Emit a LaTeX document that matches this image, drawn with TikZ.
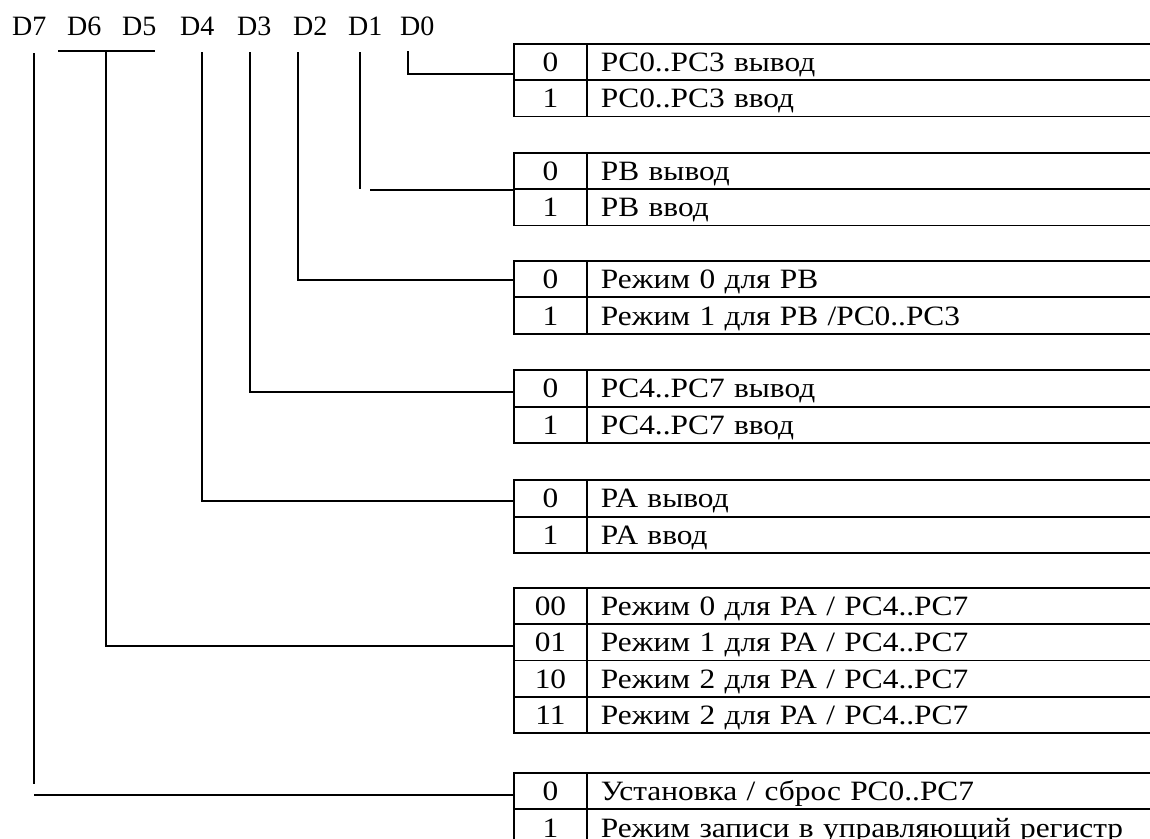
\documentclass[tikz,border=0pt]{standalone}
\usepackage{fontspec}
\setmainfont{Liberation Serif}
\newfontfamily\tblfont[FakeStretch=1.12]{Liberation Serif}
\newcommand{\myrow}[4]{%
  \node[codecell] (#1c) at (513,#2) {#3};
  \node[desccell] (#1d) at (586,#2) {#4};}
\begin{document}
\begin{tikzpicture}[x=1pt,y=-1pt,
  font=\fontsize{28}{32}\selectfont,
  tbl/.style={draw, line width=1.9pt, inner sep=0pt, minimum height=36.4pt,
              text height=19pt, text depth=0pt, anchor=north west,
              font=\tblfont\fontsize{28}{32}\selectfont},
  codecell/.style={tbl, minimum width=73pt, align=center},
  desccell/.style={tbl, text width=592pt, align=left, inner xsep=14pt},
  bitlabel/.style={anchor=base west, inner sep=0pt},
  wire/.style={line width=1.6pt}]
\useasboundingbox (0,0) rectangle (1150,838);

% bit labels
\node[bitlabel] (b7) at (12,35) {D7};
\node[bitlabel] (b6) at (67,35) {D6};
\node[bitlabel] (b5) at (122,35) {D5};
\node[bitlabel] (b4) at (180,35) {D4};
\node[bitlabel] (b3) at (237,35) {D3};
\node[bitlabel] (b2) at (293,35) {D2};
\node[bitlabel] (b1) at (348,35) {D1};
\node[bitlabel] (b0) at (400,35) {D0};

% tables
\myrow{a0}{42.7}{0}{PC0..PC3 вывод}
\myrow{a1}{79.1}{1}{PC0..PC3 ввод}

\myrow{b0r}{151.7}{0}{PB вывод}
\myrow{b1r}{188.1}{1}{PB ввод}

\myrow{c0}{260}{0}{Режим 0 для PB}
\myrow{c1}{296.4}{1}{Режим 1 для PB /PC0..PC3}

\myrow{d0}{369.3}{0}{PC4..PC7 вывод}
\myrow{d1}{405.7}{1}{PC4..PC7 ввод}

\myrow{e0}{479.3}{0}{PA вывод}
\myrow{e1}{515.7}{1}{PA ввод}

\myrow{f0}{586.7}{00}{Режим 0 для PA / PC4..PC7}
\myrow{f1}{623.1}{01}{Режим 1 для PA / PC4..PC7}
\myrow{f2}{659.5}{10}{Режим 2 для PA / PC4..PC7}
\myrow{f3}{695.9}{11}{Режим 2 для PA / PC4..PC7}

\myrow{g0}{772}{0}{Установка / сброс PC0..PC7}
\myrow{g1}{808.4}{1}{Режим записи в управляющий регистр}

% connector coordinates
\coordinate (s0) at (408,51);   \coordinate (e0c) at (a0c.west |- 0,74);
\coordinate (s1) at (360,52);   \coordinate (m1) at (360,189);
\coordinate (h1) at (370,190);  \coordinate (e1c) at (b1rc.west |- 0,190);
\coordinate (s2) at (297.7,52); \coordinate (e2c) at (c0c.west |- 0,280);
\coordinate (s3) at (250,52);   \coordinate (e3c) at (d0c.west |- 0,392);
\coordinate (s4) at (201.7,52); \coordinate (e4c) at (e0c.west |- 0,501);
\coordinate (barL) at (58,51);  \coordinate (barR) at (155,51);
\coordinate (s6) at (106,51);   \coordinate (e6c) at (f1c.west |- 0,646);
\coordinate (s7) at (34,53);    \coordinate (m7) at (34,784);
\coordinate (h7) at (34,795);   \coordinate (e7c) at (g0c.west |- 0,795);

% connectors
\draw[wire] (s0) |- (e0c);
\draw[wire] (s1) -- (m1);
\draw[wire] (h1) -- (e1c);
\draw[wire] (s2) |- (e2c);
\draw[wire] (s3) |- (e3c);
\draw[wire] (s4) |- (e4c);
\draw[wire] (barL) -- (barR);
\draw[wire] (s6) |- (e6c);
\draw[wire] (s7) -- (m7);
\draw[wire] (h7) -- (e7c);
\end{tikzpicture}
\end{document}
